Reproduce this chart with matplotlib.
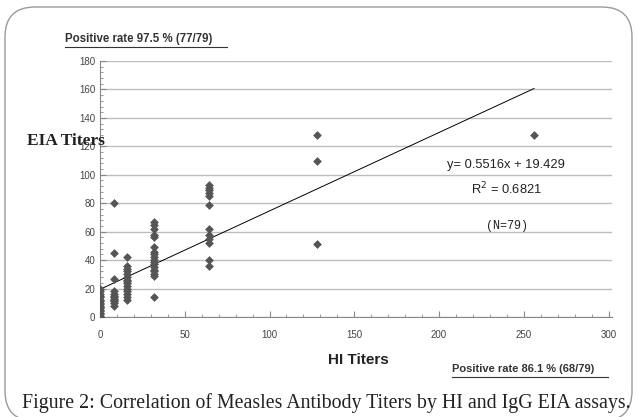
import matplotlib

matplotlib.use("Agg")
import matplotlib.pyplot as plt
import numpy as np
from matplotlib.patches import FancyBboxPatch
from matplotlib.ticker import MultipleLocator
from matplotlib.transforms import IdentityTransform

SANS = ["Liberation Sans", "DejaVu Sans"]
SERIF = ["Liberation Serif", "DejaVu Serif"]
MONO = ["Liberation Mono", "DejaVu Sans Mono"]

# HI 滴度(x)與 EIA 滴度(y),由圖上目測讀取
hi_0 = [0] * 18
eia_0 = [0, 1, 2, 3, 4, 5, 6, 7, 8, 9, 10, 11, 12, 14, 15, 16, 18, 20]
hi_8 = [8] * 12
eia_8 = [80, 45, 27, 18, 16, 15, 14, 13, 12, 11, 10, 8]
hi_16 = [16] * 15
eia_16 = [42, 36, 34, 32, 30, 28, 26, 25, 24, 22, 20, 18, 16, 14, 12]
hi_32 = [32] * 18
eia_32 = [67, 65, 62, 58, 56, 49, 46, 44, 42, 40, 39, 37, 35, 33, 32, 30, 29, 14]
hi_64 = [64] * 12
eia_64 = [93, 91, 89, 87, 85, 79, 62, 58, 55, 52, 40, 36]
hi_hi = [128, 128, 128, 256]
eia_hi = [128, 110, 51, 128]

slope = 0.5516
intercept = 19.429
r2 = 0.6821

hi = np.array(hi_0 + hi_8 + hi_16 + hi_32 + hi_64 + hi_hi)
eia = np.array(eia_0 + eia_8 + eia_16 + eia_32 + eia_64 + eia_hi)

W, H = 637, 417
fig = plt.figure(figsize=(W / 100, H / 100), dpi=100)


def fx(px):
    return px / W


def fy(py):
    return 1 - py / H


# 外框圓角(像素座標)
frame = FancyBboxPatch((5, -4), 627, 414,
                       boxstyle="round,pad=0,rounding_size=30",
                       transform=IdentityTransform(), facecolor="none",
                       edgecolor="#9a9a9a", linewidth=1.0)
fig.patches.append(frame)

ax = fig.add_axes([fx(100), (H - 317) / H, 512 / W, 256 / H])
ax.scatter(hi, eia, marker="D", s=20, color="#555555", zorder=3, linewidths=0)
xs = np.array([0, 256])
ax.plot(xs, slope * xs + intercept, color="black", linewidth=0.7, zorder=2)

ax.set_xlim(0, 302)
ax.set_ylim(0, 180)
ax.xaxis.set_major_locator(MultipleLocator(50))
ax.xaxis.set_minor_locator(MultipleLocator(10))
ax.yaxis.set_major_locator(MultipleLocator(20))
ax.yaxis.set_minor_locator(MultipleLocator(4))
ax.grid(axis="y", color="#bdbdbd", linewidth=1.0)
ax.set_axisbelow(True)
for side in ("top", "right"):
    ax.spines[side].set_visible(False)
for side in ("left", "bottom"):
    ax.spines[side].set_color("#888888")
ax.tick_params(which="both", colors="#888888", direction="in", labelcolor="#444444",
               labelsize=7)
ax.tick_params(which="major", length=4)
ax.tick_params(which="minor", length=2)
ax.tick_params(axis="x", pad=9)
for lab in ax.get_xticklabels() + ax.get_yticklabels():
    lab.set_family(SANS)

fig.text(fx(65), fy(39), "Positive rate 97.5 % (77/79)", family=SANS,
         fontsize=8.3, fontweight="bold", color="#333333", va="center")
fig.add_artist(plt.Line2D([fx(65), fx(227)], [fy(47), fy(47)], color="#333333",
                          linewidth=0.8))
fig.text(fx(27), fy(141), "EIA Titers", family=SERIF, fontsize=12.5,
         fontweight="bold", color="#222222", va="center")
fig.text(fx(506), fy(165), f"y= {slope}x + {intercept}", family=SANS,
         fontsize=9.3, color="#222222", ha="center", va="center")
fig.text(fx(506), fy(189), f"R$^2$ = {r2}", family=SANS,
         fontsize=9.3, color="#222222", ha="center", va="center")
fig.text(fx(507), fy(226), "(N=79)", family=MONO,
         fontsize=8.5, color="#222222", ha="center", va="center")
fig.text(fx(358), fy(360), "HI Titers", family=SANS, fontsize=11,
         fontweight="bold", color="#222222", ha="center", va="center")
fig.text(fx(452), fy(369), "Positive rate 86.1 % (68/79)", family=SANS,
         fontsize=8.0, fontweight="bold", color="#333333", va="center")
fig.add_artist(plt.Line2D([fx(452), fx(608)], [fy(377), fy(377)], color="#333333",
                          linewidth=0.8))
fig.text(fx(326), fy(403),
         "Figure 2: Correlation of Measles Antibody Titers by HI and IgG EIA assays.",
         family=SERIF, fontsize=14.3, color="#222222", ha="center", va="center")

fig.savefig("out.png", dpi=100)
